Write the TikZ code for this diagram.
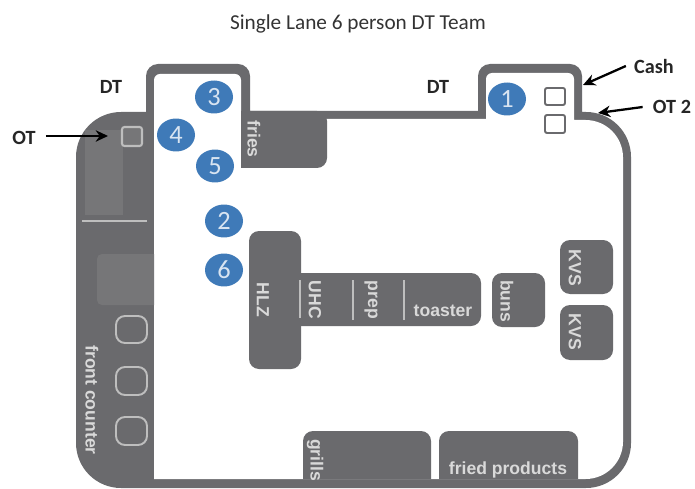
\documentclass[tikz,border=0pt]{standalone}
\usepackage{fontspec}
\setmainfont{Carlito}
\newfontfamily\labelfont{Liberation Sans}
\usetikzlibrary{arrows.meta,shapes.geometric}
\definecolor{wallgray}{HTML}{6A6A6D}
\definecolor{softgray}{HTML}{767678}
\definecolor{paleline}{HTML}{BEBEBE}
\definecolor{teamblue}{HTML}{3F7AB8}
\tikzset{
  wall/.style={fill=wallgray, draw=none},
  equip/.style={fill=wallgray, draw=none, rounded corners=0.2cm},
  softbox/.style={fill=softgray, draw=none},
  slot/.style={draw=paleline, line width=1.1pt, fill=none, rounded corners=0.18cm},
  till/.style={draw=wallgray, line width=1.1pt, fill=white, rounded corners=0.04cm},
  divider/.style={draw=paleline, line width=1.0pt},
  person/.style={ellipse, fill=teamblue, text=white!80!teamblue, font=\fontsize{15}{15}\selectfont, minimum width=0.76cm, minimum height=0.66cm, inner sep=0pt},
  equiplabel/.style={font=\labelfont\bfseries\fontsize{10}{10}\selectfont, text=white!85!black, inner sep=0pt},
  sidelabel/.style={equiplabel, rotate=-90},
  callout/.style={font=\bfseries\fontsize{11.5}{12}\selectfont, text=black!85, inner sep=0pt},
  pointer/.style={-{Stealth[length=7pt,width=6.5pt]}, line width=1.3pt, draw=black}
}
\begin{document}
\begin{tikzpicture}[x=0.02cm,y=-0.02cm]
  \useasboundingbox (0,0) rectangle (695,489);

  \node[font=\fontsize{12.1}{14}\selectfont, text=black!80, inner sep=0pt] (title) at (358,24) {Single Lane 6 person DT Team};

  % building outline, outer then inner
  \fill[wall] (76,300) [rounded corners=0.9cm] -- (76,112) [sharp corners] -- (146,112) [rounded corners=0.24cm] -- (146,64) -- (250,64) [sharp corners] -- (250,111) -- (478,111) [rounded corners=0.24cm] -- (478,64) -- (582,64) [sharp corners] -- (582,112) [rounded corners=0.9cm] -- (631,112) -- (631,488) -- (76,488) -- cycle;
  \fill[white] (154,479) [rounded corners=0.12cm] -- (154,74) -- (241,74) [sharp corners] -- (241,119) -- (486,119) [rounded corners=0.12cm] -- (486,73) -- (574,73) [sharp corners] -- (574,120) [rounded corners=0.75cm] -- (623,120) -- (623,479) [sharp corners] -- cycle;

  % front counter
  \fill[softbox] (85,215) -- (85,130) -- (123,130) -- (123,215) -- cycle;
  \draw[divider, line width=1.6pt] (82,221) -- (147,221);
  \fill[softbox, rounded corners=0.1cm] (154,305) -- (97,305) -- (97,254) -- (154,254);
  \draw[slot] (116,316) rectangle (147,343);
  \draw[slot] (116,367) rectangle (147,395);
  \draw[slot] (116,417) rectangle (147,445);
  \draw[draw=paleline, line width=1.2pt, fill=softgray, rounded corners=0.05cm] (122,127) rectangle (142,146);
  \node[sidelabel] (counter) at (92,400) {front counter};

  % equipment
  \fill[wall] (241,111) -- (241,168) [rounded corners=0.2cm] -- (327,168) -- (327,111) [sharp corners] -- cycle;
  \node[sidelabel] (fries) at (254,139) {fries};
  \fill[equip] (249,231) rectangle (301,369);
  \fill[equip] (290,273) rectangle (481,326);
  \fill[equip] (492,273) rectangle (545,327);
  \fill[equip] (560,240) rectangle (613,294);
  \fill[equip] (560,305) rectangle (613,360);
  \fill[wall] (303,479) [rounded corners=0.2cm] -- (303,431) -- (431,431) [sharp corners] -- (431,479) -- cycle;
  \fill[wall] (439,479) [rounded corners=0.2cm] -- (439,431) -- (578,431) [sharp corners] -- (578,479) -- cycle;

  \node[sidelabel] (hlz) at (263,300) {HLZ};
  \node[sidelabel] (uhc) at (315,300) {UHC};
  \node[sidelabel] (prep) at (371,300) {prep};
  \node[equiplabel] (toaster) at (443,311) {toaster};
  \node[sidelabel] (buns) at (507,301) {buns};
  \node[sidelabel] (kvsa) at (575,268) {KVS};
  \node[sidelabel] (kvsb) at (575,332) {KVS};
  \node[sidelabel] (grills) at (315,460) {grills};
  \node[equiplabel] (fried) at (508,470) {fried products};
  \draw[divider] (300,280) -- (300,318);
  \draw[divider] (353,280) -- (353,320);
  \draw[divider] (404,280) -- (404,320);

  % team
  \node[person] (p3) at (214,97) {3};
  \node[person] (p4) at (176,135) {4};
  \node[person] (p5) at (215,166) {5};
  \node[person] (p2) at (224,221) {2};
  \node[person] (p6) at (224,270) {6};
  \node[person] (p1) at (507,99) {1};

  % windows
  \draw[till] (545,88) rectangle (565,105);
  \draw[till] (545,115) rectangle (565,133);

  \node[callout] (dta) at (111,87) {DT};
  \node[callout] (dtb) at (438,87) {DT};
  \node[callout] (ot) at (24,138) {OT};
  \node[callout] (cash) at (654,66) {Cash};
  \node[callout] (otb) at (672,107) {OT 2};

  \coordinate (otend) at (108,136);
  \coordinate (cashend) at (583,85);
  \coordinate (otbend) at (598,113);
  \draw[pointer] (ot.east) ++(10,-2) -- (otend);
  \draw[pointer] (cash.west) ++(-8,0) -- (cashend);
  \draw[pointer] (otb.west) ++(-10,0) -- (otbend);
\end{tikzpicture}
\end{document}
